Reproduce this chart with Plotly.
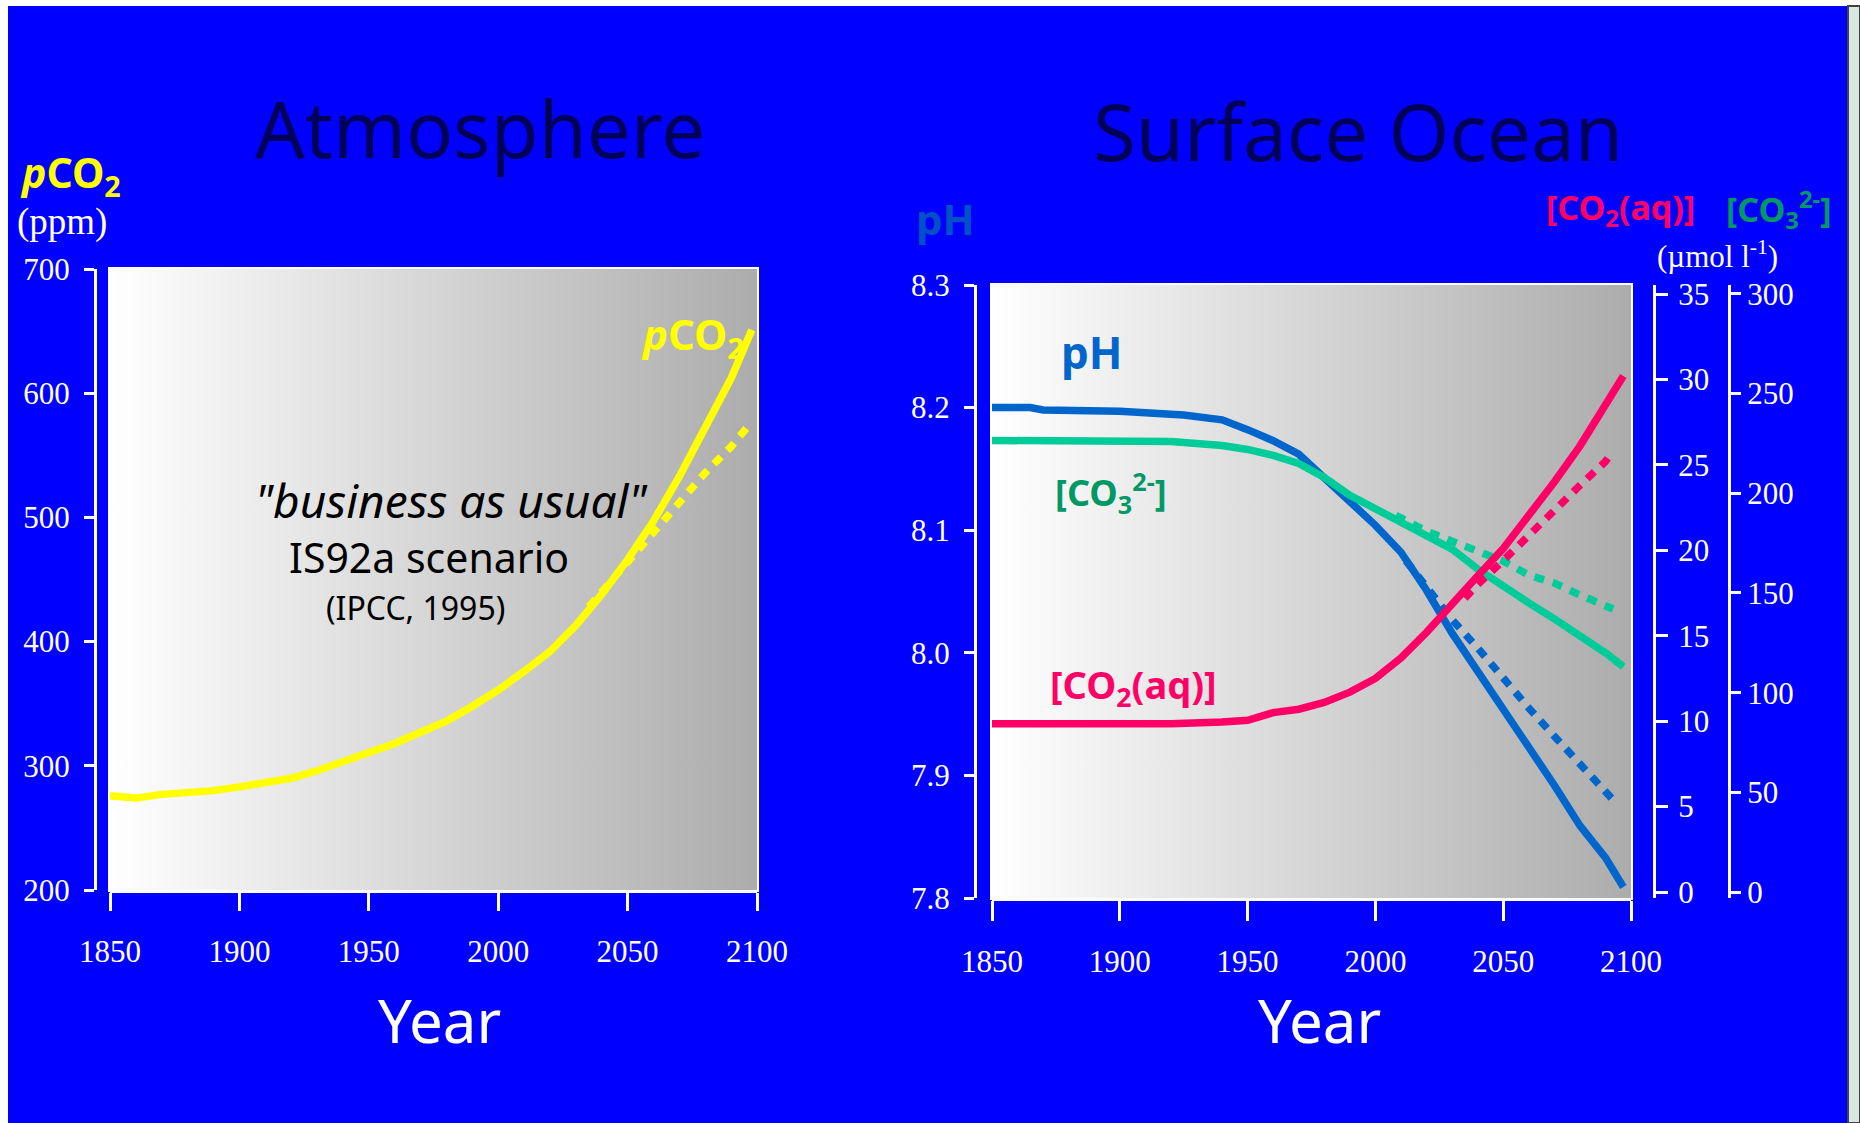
import base64
import plotly.graph_objects as go

# ---------------- data ----------------
# Atmosphere: pCO2 (ppm), IS92a "business as usual"
years_atm = [1850, 1860, 1870, 1880, 1890, 1900, 1910, 1920, 1930, 1940, 1950, 1960, 1970,
             1980, 1990, 2000, 2010, 2020, 2030, 2040, 2050, 2060, 2070, 2080, 2090, 2098]
pco2 = [276, 274, 277, 278, 280, 283, 286, 290, 296, 303, 310, 318, 327,
        336, 348, 361, 376, 392, 413, 438, 466, 497, 533, 572, 612, 651]
years_atm_alt = [2035, 2040, 2050, 2060, 2070, 2080, 2090, 2096]
pco2_alt = [428, 440, 463, 488, 513, 536, 557, 572]

# Surface ocean: pH
years_ph = [1850, 1865, 1870, 1900, 1925, 1940, 1950, 1960, 1970, 1980, 1990, 2000, 2010,
            2020, 2030, 2040, 2050, 2060, 2070, 2080, 2090, 2097]
ph = [8.200, 8.200, 8.198, 8.197, 8.194, 8.190, 8.182, 8.173, 8.162, 8.143, 8.124, 8.104, 8.082,
      8.051, 8.016, 7.985, 7.955, 7.923, 7.892, 7.859, 7.833, 7.809]
years_ph_alt = [2012, 2020, 2030, 2040, 2050, 2060, 2070, 2080, 2090, 2093]
ph_alt = [8.075, 8.053, 8.027, 8.004, 7.979, 7.955, 7.932, 7.910, 7.887, 7.880]

# Surface ocean: [CO3 2-] (umol/l)
years_co3 = [1850, 1900, 1920, 1930, 1940, 1950, 1960, 1970, 1980, 1990, 2000, 2010, 2020,
             2030, 2040, 2050, 2060, 2070, 2080, 2090, 2097]
co3 = [226.5, 226.5, 226, 225, 224, 222, 219, 215, 208, 199, 192, 186, 179,
       172, 162, 153, 145, 137, 129, 120, 113]
years_co3_alt = [2008, 2020, 2030, 2040, 2050, 2060, 2070, 2080, 2090, 2093]
co3_alt = [189, 181, 176, 171, 166, 159, 155, 149, 144, 142]

# Surface ocean: [CO2(aq)] (umol/l)
years_co2aq = [1850, 1860, 1870, 1880, 1900, 1920, 1940, 1950, 1960, 1970, 1980, 1990, 2000,
               2010, 2020, 2030, 2040, 2050, 2060, 2070, 2080, 2090, 2097]
co2aq = [9.85, 9.85, 9.75, 9.75, 9.78, 9.85, 9.95, 10.05, 10.5, 10.7, 11.1, 11.7, 12.5,
         13.7, 15.2, 16.9, 18.5, 20.1, 22.0, 24.0, 26.1, 28.4, 30.2]
years_co2aq_alt = [2035, 2040, 2050, 2060, 2070, 2080, 2090, 2093]
co2aq_alt = [17.2, 18.0, 19.4, 20.9, 22.4, 23.8, 25.2, 25.8]

# ticks
year_ticks = [1850, 1900, 1950, 2000, 2050, 2100]
pco2_ticks = [200, 300, 400, 500, 600, 700]
ph_ticks = [7.8, 7.9, 8.0, 8.1, 8.2, 8.3]
co2aq_ticks = [0, 5, 10, 15, 20, 25, 30, 35]
co3_ticks = [0, 50, 100, 150, 200, 250, 300]

# ---------------- styling ----------------
W, H = 1860, 1123
BLUE_BG = "#0000ff"
YELLOW = "#ffff00"
PH_COL = "#0066cc"
CO3_COL = "#00cc99"
CO3_TXT = "#009966"
CO2_COL = "#ff0066"
TITLE_COL = "#000058"
SANS = "Noto Sans"
SERIF = "Liberation Serif"
DASH = "10px,9px"
LW = 7.5


def px(x):
    return x / W


def py(y):
    return 1 - y / H


fig = go.Figure()

# left chart
fig.add_trace(go.Scatter(x=years_atm_alt, y=pco2_alt, mode="lines", xaxis="x", yaxis="y",
                         line=dict(color=YELLOW, width=LW, dash=DASH), showlegend=False))
fig.add_trace(go.Scatter(x=years_atm, y=pco2, mode="lines", xaxis="x", yaxis="y",
                         line=dict(color=YELLOW, width=LW), showlegend=False))

# right chart
fig.add_trace(go.Scatter(x=years_ph_alt, y=ph_alt, mode="lines", xaxis="x2", yaxis="y2",
                         line=dict(color=PH_COL, width=LW, dash=DASH), showlegend=False))
fig.add_trace(go.Scatter(x=years_ph, y=ph, mode="lines", xaxis="x2", yaxis="y2",
                         line=dict(color=PH_COL, width=LW), showlegend=False))
fig.add_trace(go.Scatter(x=years_co3_alt, y=co3_alt, mode="lines", xaxis="x2", yaxis="y3",
                         line=dict(color=CO3_COL, width=LW, dash=DASH), showlegend=False))
fig.add_trace(go.Scatter(x=years_co3, y=co3, mode="lines", xaxis="x2", yaxis="y3",
                         line=dict(color=CO3_COL, width=LW), showlegend=False))
fig.add_trace(go.Scatter(x=years_co2aq_alt, y=co2aq_alt, mode="lines", xaxis="x2", yaxis="y4",
                         line=dict(color=CO2_COL, width=LW, dash=DASH), showlegend=False))
fig.add_trace(go.Scatter(x=years_co2aq, y=co2aq, mode="lines", xaxis="x2", yaxis="y4",
                         line=dict(color=CO2_COL, width=LW), showlegend=False))

tickfont = dict(family=SERIF, size=31, color="white")
axis_common = dict(showgrid=False, zeroline=False, showline=True, linecolor="white",
                   linewidth=3, ticks="outside", tickcolor="white", tickwidth=3,
                   tickfont=tickfont, automargin=False)

left_x_dom = [px(110), px(757)]
left_y_dom = [py(890), py(269)]
right_x_dom = [px(992), px(1631)]
right_y_dom = [py(898), py(285)]

fig.update_layout(
    width=W, height=H,
    margin=dict(l=0, r=0, t=0, b=0, pad=0, autoexpand=False),
    paper_bgcolor=BLUE_BG,
    plot_bgcolor="rgba(0,0,0,0)",
    showlegend=False,
    xaxis=dict(domain=left_x_dom, range=[1850, 2100], anchor="y", tickvals=year_ticks,
               ticklen=18, ticklabelstandoff=14, **axis_common),
    yaxis=dict(domain=left_y_dom, range=[200, 700], anchor="free", position=px(95),
               tickvals=pco2_ticks, ticklen=10, ticklabelstandoff=8, **axis_common),
    xaxis2=dict(domain=right_x_dom, range=[1850, 2100], anchor="y2", tickvals=year_ticks,
                ticklen=20, ticklabelstandoff=14, **axis_common),
    yaxis2=dict(domain=right_y_dom, range=[7.8, 8.3], anchor="free", position=px(975),
                tickvals=ph_ticks, tickformat=".1f", ticklen=10, ticklabelstandoff=8,
                **axis_common),
    yaxis3=dict(overlaying="y2", side="right", anchor="free", position=px(1729),
                range=[-3.01, 304.5], tickvals=co3_ticks, ticklen=10, ticklabelstandoff=0,
                **axis_common),
    yaxis4=dict(overlaying="y2", side="right", anchor="free", position=px(1654),
                range=[-0.351, 35.53], tickvals=co2aq_ticks, ticklen=12, ticklabelstandoff=4,
                **axis_common),
)

# gradient plot backgrounds (SVG data URI)
svg = ("<svg xmlns='http://www.w3.org/2000/svg' width='200' height='200' "
       "preserveAspectRatio='none' viewBox='0 0 200 200'><defs>"
       "<linearGradient id='g' x1='0' x2='1' y1='0' y2='0'>"
       "<stop offset='0' stop-color='#ffffff'/><stop offset='1' stop-color='#acacac'/>"
       "</linearGradient></defs><rect width='200' height='200' fill='url(#g)'/></svg>")
src = "data:image/svg+xml;base64," + base64.b64encode(svg.encode()).decode()
images = []
for xr, yr in (("x domain", "y domain"), ("x2 domain", "y2 domain")):
    images.append(dict(source=src, xref=xr, yref=yr, x=0, y=1, sizex=1, sizey=1,
                       xanchor="left", yanchor="top", sizing="stretch", layer="below"))
fig.update_layout(images=images)

shapes = []
for xr, yr in (("x domain", "y domain"), ("x2 domain", "y2 domain")):
    shapes.append(dict(type="rect", xref=xr, yref=yr, x0=0, x1=1, y0=0, y1=1,
                       line=dict(color="white", width=4), layer="below"))
# slide frame edges
shapes.append(dict(type="rect", xref="paper", yref="paper", x0=0, x1=1, y0=py(6), y1=1,
                   fillcolor="white", line=dict(width=0)))
shapes.append(dict(type="rect", xref="paper", yref="paper", x0=0, x1=px(8), y0=0, y1=1,
                   fillcolor="white", line=dict(width=0)))
shapes.append(dict(type="rect", xref="paper", yref="paper", x0=px(1848), x1=1, y0=0, y1=py(6),
                   fillcolor="#d8e8e0", line=dict(color="#404040", width=2)))
fig.update_layout(shapes=shapes)


def ann(text, x, y, size, color, family=SANS, xanchor="center"):
    fig.add_annotation(text=text, x=px(x), y=py(y), xref="paper", yref="paper",
                       showarrow=False, xanchor=xanchor, yanchor="middle",
                       font=dict(family=family, size=size, color=color))


# titles
ann("Atmosphere", 480, 128, 78, TITLE_COL)
ann("Surface Ocean", 1358, 131, 78, TITLE_COL)

# left chart texts
ann("<b><i>p</i>CO<sub>2</sub></b>", 70, 174, 41, YELLOW)
ann("(ppm)", 62, 222, 37, "white", family=SERIF)
ann("<b><i>p</i>CO<sub>2</sub></b>", 692, 336, 42, YELLOW)
ann("<i>\"business as usual\"</i>", 451, 500, 46, "black")
ann("IS92a scenario", 429, 557, 41, "black")
ann("(IPCC, 1995)", 415, 607, 32, "black")
ann("Year", 439, 1020, 60, "white")

# right chart texts
ann("<b>pH</b>", 946, 218, 42, "#0050c8")
ann("<b>[CO<sub>2</sub>(aq)]</b>", 1620, 209, 34, CO2_COL)
ann("<b>[CO<sub>3</sub><sup>2-</sup>]</b>", 1778, 209, 34, CO3_TXT)
ann("(µmol l<sup>-1</sup>)", 1717, 255, 31, "white", family=SERIF)
ann("<b>pH</b>", 1091, 352, 44, PH_COL)
ann("<b>[CO<sub>3</sub><sup>2-</sup>]</b>", 1111, 492, 36, CO3_TXT)
ann("<b>[CO<sub>2</sub>(aq)]</b>", 1133, 686, 38, CO2_COL)
ann("Year", 1319, 1020, 60, "white")

fig.write_html("out.html", config={"displayModeBar": False},
               post_script="document.body.style.margin='0px';")
